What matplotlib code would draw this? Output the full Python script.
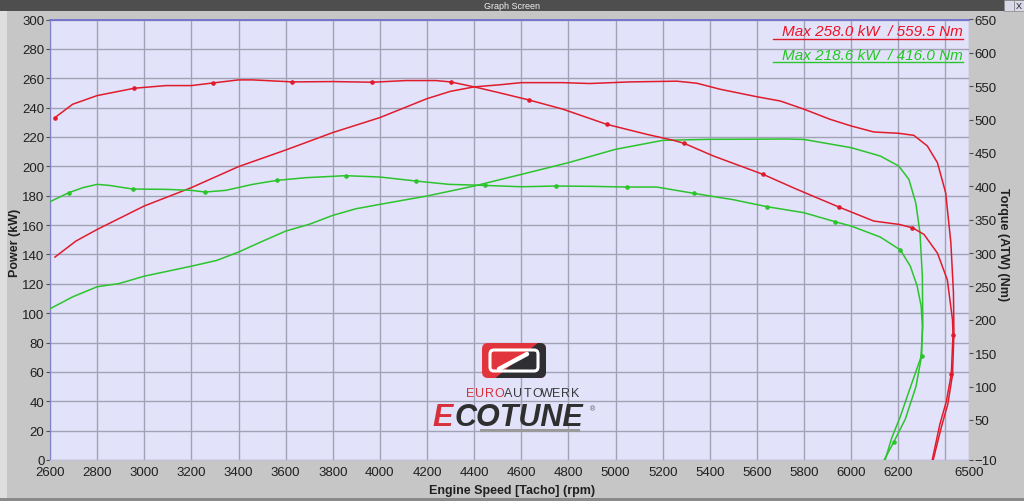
import matplotlib
matplotlib.use('Agg')
import matplotlib.pyplot as plt
from matplotlib.patches import Rectangle, FancyBboxPatch, Polygon

plt.rcParams['font.family'] = ['Liberation Sans', 'DejaVu Sans']

W, H = 1024, 502

# run 1 (red) - power in kW
red_kw_rpm = [2621, 2710, 2800, 3000, 3200, 3400, 3600, 3800, 4000, 4200, 4300, 4400,
              4506, 4600, 4777, 4891, 5061, 5260, 5345, 5444, 5603, 5699, 5800, 5911,
              6000, 6096, 6202, 6266, 6323, 6366, 6401, 6423, 6434, 6436, 6430, 6410,
              6382, 6348]
red_kw = [138.2, 149.1, 157, 173, 185.5, 199.8, 211.1, 223, 233.2, 246.1, 251.1, 254.1,
          255.5, 257, 257, 256.4, 257.5, 258.0, 256.6, 252.5, 247.3, 244.5, 238.9, 232,
          227.5, 223.4, 222.5, 221.1, 213.9, 202.5, 182, 148, 114, 86, 58, 38,
          22, 0]

# run 1 (red) - torque in Nm
red_nm_rpm = [2621, 2696, 2800, 2958, 3092, 3200, 3293, 3400, 3460, 3629, 3800, 3968,
              4110, 4237, 4300, 4406, 4505, 4633, 4777, 4962, 5132, 5245, 5291, 5416,
              5626, 5770, 5948, 6096, 6203, 6260, 6309, 6366, 6408, 6430, 6432, 6425,
              6404, 6376, 6344]
red_nm = [503, 523, 536, 547, 551, 551, 555, 559.5, 559.5, 556.5, 557, 556,
          558.5, 558.5, 556.5, 548.6, 540.4, 529.4, 515.6, 493, 478, 469, 464.5, 445.4,
          418, 395.5, 369, 348, 343, 338, 328, 300, 260, 200, 177, 119,
          78, 43, -10]
red_nm_marks = [0, 3, 6, 9, 11, 14, 17, 19, 22, 24, 26, 29, 34, 35]

# run 2 (green) - power in kW
green_kw_rpm = [2600, 2696, 2800, 2894, 3000, 3200, 3307, 3400, 3488, 3600, 3700, 3800,
                3898, 4000, 4200, 4400, 4600, 4800, 5000, 5201, 5400, 5603, 5728, 5800,
                6000, 6124, 6202, 6245, 6274, 6292, 6302, 6304, 6296, 6256, 6207, 6172,
                6144]
green_kw = [103, 111.1, 118, 120.2, 125.2, 132, 135.9, 141.6, 148, 155.9, 160.5, 166.6,
            171.1, 174.1, 179.8, 186.6, 194.5, 202.5, 211.6, 217.7, 218.4, 218.5, 218.6, 218.3,
            212.7, 207, 200.2, 191.1, 175.2, 154.8, 125.2, 91.1, 70, 51.7, 28.9, 15,
            0]

# run 2 (green) - torque in Nm
green_nm_rpm = [2600, 2679, 2739, 2800, 2852, 2951, 3092, 3200, 3259, 3346, 3460, 3563,
                3686, 3855, 4000, 4153, 4293, 4446, 4600, 4749, 4900, 5047, 5174, 5333,
                5400, 5500, 5643, 5800, 5932, 6000, 6124, 6209, 6251, 6280, 6297, 6302,
                6299, 6275, 6230, 6180, 6140]
green_nm = [377, 390.4, 398, 403, 401.4, 396, 395.5, 394, 391.5, 394, 403, 409,
            413, 416, 414, 408, 403, 401.4, 399.4, 400.5, 400, 399, 399, 389.5,
            385.6, 380, 369.5, 360.5, 347, 340.5, 324, 304.6, 280.4, 250.5, 220.6, 190.4,
            146, 100, 51.6, 16.4, -10]
green_nm_marks = [1, 5, 8, 11, 13, 15, 17, 19, 21, 23, 26, 28, 31, 36, 39]

max_labels = ['Max 258.0 kW  / 559.5 Nm', 'Max 218.6 kW  / 416.0 Nm']

kw_ticks = list(range(0, 301, 20))
nm_ticks = [-10] + list(range(50, 651, 50))
rpm_ticks = list(range(2600, 6401, 200)) + [6500]
rpm_labels = ['' if r == 6400 else str(r) for r in rpm_ticks]

RED = '#e01c2c'
GREEN = '#2cc42c'


def fx(px):
    return px / W


def fy(py):
    return 1 - py / H


fig = plt.figure(figsize=(W / 100, H / 100), dpi=100, facecolor='#c6c6c6')

# window frame
fig.patches.append(Rectangle((0, 0), fx(7), 1, transform=fig.transFigure,
                             fc='#dedede', ec='none', zorder=0))
fig.patches.append(Rectangle((0, fy(12)), 1, 12 / H, transform=fig.transFigure,
                             fc='#4e4e4e', ec='none', zorder=0))
fig.patches.append(Rectangle((0, 0), 1, 3 / H, transform=fig.transFigure,
                             fc='#8a8a8a', ec='none', zorder=0))
fig.patches.append(Rectangle((fx(1004), fy(12)), 10 / W, 11 / H, transform=fig.transFigure,
                             fc='#d8d8e8', ec='#888888', lw=0.5, zorder=1))
fig.patches.append(Rectangle((fx(1014), fy(12)), 10 / W, 11 / H, transform=fig.transFigure,
                             fc='#d8d8e8', ec='#888888', lw=0.5, zorder=1))
fig.text(fx(1019), fy(6.5), 'X', fontsize=6.5, ha='center', va='center', color='#202020')
fig.text(0.5, fy(6.5), 'Graph Screen', fontsize=6.5, ha='center', va='center',
         color='#f0f0f0', family=['Liberation Sans Narrow', 'Liberation Sans'])

ax = fig.add_axes([fx(50), fy(461), (969 - 50) / W, (461 - 20.5) / H])
ax.set_facecolor('#e2e2fa')
ax2 = ax.twinx()

ax.set_xlim(2600, 6500)
ax.set_ylim(0, 300)
ax2.set_ylim(-10, 650)

ax.set_xticks(rpm_ticks)
ax.set_xticklabels(rpm_labels)
ax.set_yticks(kw_ticks)
ax2.set_yticks(nm_ticks)

ax.grid(True, color='#a2a2b6', lw=1.0)
ax.set_axisbelow(True)

for a in (ax, ax2):
    for s in a.spines.values():
        s.set_visible(False)
ax.spines['left'].set_visible(True)
ax.spines['left'].set_color('#8080c8')
ax.spines['top'].set_visible(True)
ax.spines['top'].set_color('#7070d0')
ax.spines['top'].set_linewidth(1.3)
ax.spines['bottom'].set_visible(True)
ax.spines['bottom'].set_color('#c0c0d8')

ax.tick_params(axis='y', direction='out', length=3, width=0.8, color='#505050',
               labelsize=9.5, pad=1, labelcolor='#202020')
ax.tick_params(axis='x', length=0, labelsize=9.5, pad=4, labelcolor='#202020')
ax2.tick_params(axis='y', direction='out', length=3, width=0.8, color='#505050',
                labelsize=9.5, pad=1, labelcolor='#202020')

fig.text(fx(15), fy(243), 'Power (kW)', fontsize=9, fontweight='bold', rotation=90,
         ha='center', va='center', color='#202020')
fig.text(fx(1003), fy(245), 'Torque (ATW) (Nm)', fontsize=9, fontweight='bold',
         rotation=270, ha='center', va='center', color='#202020')
fig.text(0.5, fy(491), 'Engine Speed [Tacho] (rpm)', fontsize=9, fontweight='bold',
         ha='center', va='center', color='#202020')

# curves
ax.plot(red_kw_rpm, red_kw, color=RED, lw=1.1, zorder=3)
ax.plot(green_kw_rpm, green_kw, color=GREEN, lw=1.1, zorder=3)
ax2.plot(red_nm_rpm, red_nm, color=RED, lw=1.1, marker='o', ms=2.3,
         markevery=red_nm_marks, zorder=3)
ax2.plot(green_nm_rpm, green_nm, color=GREEN, lw=1.1, marker='o', ms=2.3,
         markevery=green_nm_marks, zorder=3)

# max value captions
ax2.text(0.9935, 0.973, max_labels[0], transform=ax.transAxes, ha='right', va='center',
         color='#ee1426', fontsize=11, style='italic', zorder=5)
ax2.text(0.9935, 0.920, max_labels[1], transform=ax.transAxes, ha='right', va='center',
         color='#22c822', fontsize=11, style='italic', zorder=5)
ax2.plot([0.787, 0.9935], [0.955, 0.955], transform=ax.transAxes, color=RED, lw=1.0,
         zorder=5)
ax2.plot([0.787, 0.9935], [0.903, 0.903], transform=ax.transAxes, color=GREEN, lw=1.0,
         zorder=5)

# logo
lax = fig.add_axes([fx(481), fy(380), 66 / W, 37 / H])
lax.set_xlim(0, 66)
lax.set_ylim(37, 0)
lax.axis('off')
badge = FancyBboxPatch((1, 1), 64, 35, boxstyle='round,pad=0,rounding_size=6',
                       fc='#e2343c', ec='none')
lax.add_patch(badge)
dark = Polygon([(58, 0), (67, 0), (67, 38), (12, 38)], closed=True, fc='#2f2f33', ec='none')
lax.add_patch(dark)
dark.set_clip_path(badge)
inner = FancyBboxPatch((9, 8), 48, 21, boxstyle='round,pad=0,rounding_size=4',
                       fc='none', ec='white', lw=2.2)
lax.add_patch(inner)
inner.set_clip_path(badge)
lax.plot([18, 46], [27, 12], color='white', lw=3.2, solid_capstyle='round')

logo_letters = 'EUROAUTOWERK'
for i, ch in enumerate(logo_letters):
    fig.text(fx(470 + i * 9.6), fy(394), ch, fontsize=9, ha='center', va='center',
             color='#d8303a' if i < 4 else '#3a3a3a')

fig.text(fx(432), fy(418), 'E', fontsize=22, fontweight='bold', style='italic',
         ha='left', va='center', color='#d8303a')
fig.text(fx(455), fy(418), 'COTUNE', fontsize=22, fontweight='bold', style='italic',
         ha='left', va='center', color='#2f2f2f')
fig.text(fx(592), fy(410), '\u00ae', fontsize=5, ha='center', va='center', color='#555555')
fig.patches.append(Rectangle((fx(480), fy(433)), 100 / W, 3 / H, transform=fig.transFigure,
                             fc='#9a9a9a', ec='none', zorder=2))

fig.savefig('out.png', dpi=100, facecolor=fig.get_facecolor())
